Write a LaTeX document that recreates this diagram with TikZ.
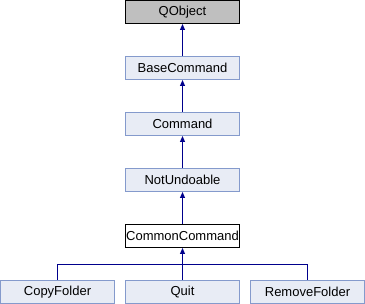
\documentclass[tikz,border=0pt]{standalone}
\usepackage{fontspec}
\setmainfont{Liberation Sans}
\usetikzlibrary{arrows.meta}
\definecolor{boxfill}{RGB}{232,236,245}
\definecolor{boxline}{RGB}{132,154,204}
\definecolor{linkblue}{RGB}{0,0,140}
\begin{document}
\begin{tikzpicture}[x=1pt, y=-1pt,
    cls/.style={draw=boxline, fill=boxfill, line width=1pt, minimum width=114pt, minimum height=23pt, inner sep=0pt, font=\fontsize{13}{15}\selectfont},
    ext/.style={cls, draw=black},
    inh/.style={draw=linkblue, line width=1pt, -{Triangle[length=6pt,width=5pt]}}]
    \useasboundingbox (0, 0) rectangle (365, 304);
    % chain up to QObject
    \node[ext, fill=black!25](qobject)at(182.5, 12){QObject};
    \node[cls](basecommand)at(182.5, 68){BaseCommand};
    \node[cls](command)at(182.5, 124){Command};
    \node[cls](notundoable)at(182.5, 180){NotUndoable};
    \node[ext, fill=white](commoncommand)at(182.5, 236){CommonCommand};
    % leaves
    \node[cls](copyfolder)at(57.5, 292){CopyFolder};
    \node[cls](quit)at(182.5, 292){Quit};
    \node[cls](removefolder)at(307.5, 292){RemoveFolder};
    \coordinate(bus)at(182.5, 264.5);
    \draw[inh](basecommand)--(qobject);
    \draw[inh](command)--(basecommand);
    \draw[inh](notundoable)--(command);
    \draw[inh](commoncommand)--(notundoable);
    \draw[inh](quit)--(commoncommand);
    \draw[linkblue, line width=1pt](copyfolder.north)|-(bus)-|(removefolder.north);
\end{tikzpicture}
\end{document}
